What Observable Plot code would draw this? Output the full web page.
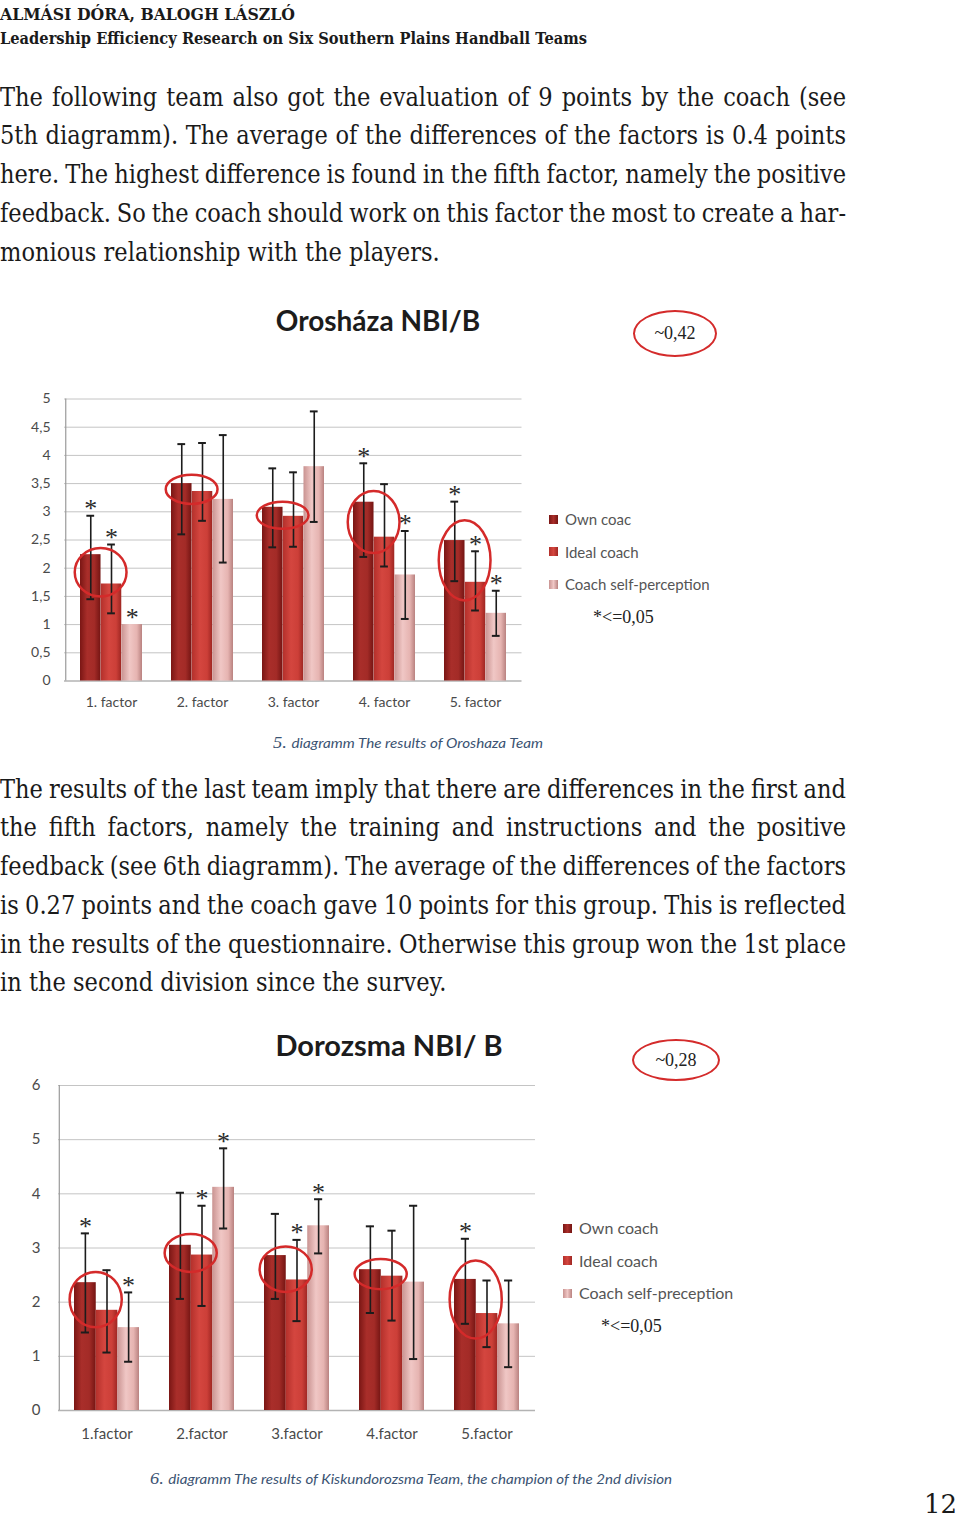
<!DOCTYPE html>
<html><head><meta charset="utf-8">
<script src="https://cdn.jsdelivr.net/npm/d3@7"></script>
<script src="https://cdn.jsdelivr.net/npm/@observablehq/plot@0.6"></script>
<style>
body{margin:0;background:#fff;}
#page{position:relative;width:960px;height:1522px;overflow:hidden;background:#fff;}
.ln{position:absolute;white-space:nowrap;transform-origin:0 50%;color:#1a1a1a;}
.chart{position:absolute;}
.title{position:absolute;font-family:Lato,sans-serif;font-weight:700;color:#1c1c1c;text-align:center;white-space:nowrap;}
.oval{position:absolute;box-sizing:border-box;border:2.5px solid #d42b2b;border-radius:50%;display:flex;align-items:center;justify-content:center;font-family:"Liberation Serif",serif;font-size:18px;color:#222;}
.leg{position:absolute;font-family:Lato,sans-serif;color:#555;white-space:nowrap;}
.sw{position:absolute;width:9px;height:9px;}
.sig{position:absolute;font-family:"Liberation Serif",serif;color:#222;white-space:nowrap;}
.cap{position:absolute;white-space:nowrap;transform-origin:0 50%;color:#3b5372;font-family:Lato,sans-serif;font-style:italic;}
</style></head>
<body>
<svg width="0" height="0" style="position:absolute">
<defs>
<linearGradient id="gOwn" x1="0" x2="1" y1="0" y2="0">
<stop offset="0" stop-color="#7a1614"/><stop offset="0.35" stop-color="#a92e2a"/><stop offset="0.7" stop-color="#a32b27"/><stop offset="1" stop-color="#741513"/>
</linearGradient>
<linearGradient id="gIdeal" x1="0" x2="1" y1="0" y2="0">
<stop offset="0" stop-color="#b3302b"/><stop offset="0.4" stop-color="#d4463f"/><stop offset="0.75" stop-color="#cc3f38"/><stop offset="1" stop-color="#9e2622"/>
</linearGradient>
<linearGradient id="gSelf" x1="0" x2="1" y1="0" y2="0">
<stop offset="0" stop-color="#c99391"/><stop offset="0.4" stop-color="#f0c7c5"/><stop offset="0.75" stop-color="#e6b4b1"/><stop offset="1" stop-color="#b98280"/>
</linearGradient>
</defs>
</svg>
<div id="page"></div>
<script>
// ---------- DATA ----------
const seriesNames1 = ["Own coac", "Ideal coach", "Coach self-perception"];
const seriesNames2 = ["Own coach", "Ideal coach", "Coach self-preception"];

// Chart 1: Orosháza NBI/B
const factors1 = ["1. factor", "2. factor", "3. factor", "4. factor", "5. factor"];
const yTicks1 = [0, 0.5, 1, 1.5, 2, 2.5, 3, 3.5, 4, 4.5, 5];
const own1 = [2.24, 3.50, 3.08, 3.17, 2.49];
const ideal1 = [1.72, 3.36, 2.92, 2.55, 1.75];
const self1 = [1.00, 3.22, 3.80, 1.88, 1.20];
const ownLo1 = [1.45, 2.60, 2.37, 2.20, 1.77];
const ownHi1 = [2.93, 4.20, 3.77, 3.86, 3.18];
const idealLo1 = [1.20, 2.84, 2.38, 2.03, 1.25];
const idealHi1 = [2.42, 4.22, 3.70, 3.49, 2.30];
const selfLo1 = [null, 2.10, 2.82, 1.10, 0.80];
const selfHi1 = [null, 4.36, 4.78, 2.66, 1.60];
const ownSig1 = [1, 0, 0, 1, 1];
const idealSig1 = [1, 0, 0, 0, 1];
const selfSig1 = [1, 0, 0, 1, 1];
const ovalLo1 = [1.49, 3.13, 2.69, 2.26, 1.42];
const ovalHi1 = [2.35, 3.65, 3.17, 3.36, 2.84];

// Chart 2: Dorozsma NBI/ B
const factors2 = ["1.factor", "2.factor", "3.factor", "4.factor", "5.factor"];
const yTicks2 = [0, 1, 2, 3, 4, 5, 6];
const own2 = [2.36, 3.05, 2.86, 2.60, 2.42];
const ideal2 = [1.85, 2.87, 2.41, 2.48, 1.79];
const self2 = [1.53, 4.12, 3.41, 2.37, 1.60];
const ownLo2 = [1.44, 2.06, 2.06, 1.80, 1.60];
const ownHi2 = [3.27, 4.02, 3.63, 3.40, 3.17];
const idealLo2 = [1.07, 1.93, 1.65, 1.66, 1.17];
const idealHi2 = [2.59, 3.78, 3.15, 3.32, 2.40];
const selfLo2 = [0.90, 3.36, 2.90, 0.95, 0.80];
const selfHi2 = [2.18, 4.84, 3.90, 3.78, 2.40];
const ownSig2 = [1, 0, 0, 0, 1];
const idealSig2 = [0, 1, 1, 0, 0];
const selfSig2 = [1, 1, 1, 0, 0];
const ovalLo2 = [1.53, 2.55, 2.18, 2.23, 1.32];
const ovalHi2 = [2.55, 3.25, 3.02, 2.79, 2.76];

// Text
const header = ["ALMÁSI DÓRA, BALOGH LÁSZLÓ", "Leadership Efficiency Research on Six Southern Plains Handball Teams"];
const para1 = [
  "The following team also got the evaluation of 9 points by the coach (see",
  "5th diagramm). The average of the differences of the factors is 0.4 points",
  "here. The highest difference is found in the fifth factor, namely the positive",
  "feedback. So the coach should work on this factor the most to create a har-",
  "monious relationship with the players."
];
const para2 = [
  "The results of the last team imply that there are differences in the first and",
  "the fifth factors, namely the training and instructions and the positive",
  "feedback (see 6th diagramm). The average of the differences of the factors",
  "is 0.27 points and the coach gave 10 points for this group. This is reflected",
  "in the results of the questionnaire. Otherwise this group won the 1st place",
  "in the second division since the survey."
];

// ---------- PAGE TEXT ----------
const page = document.getElementById("page");
const SERIF = '"DejaVu Serif", serif';

function makeLine(text, o) {
  const d = document.createElement("div");
  d.className = "ln";
  d.textContent = text;
  Object.assign(d.style, {
    top: o.top + "px", left: (o.left || 0) + "px", fontSize: o.size + "px",
    fontFamily: o.family, fontWeight: o.weight || 400, lineHeight: o.lh + "px",
    color: o.color || "#1a1a1a"
  });
  page.appendChild(d);
  return d;
}
function fitLine(el, target) {
  const w = el.getBoundingClientRect().width;
  el.style.transform = `scaleX(${target / w})`;
}
function paragraph(lines, o) {
  const els = lines.map((t, i) => makeLine(t, {...o, top: o.top + i * o.lh}));
  const widths = els.map(e => e.getBoundingClientRect().width);
  const s = d3.mean(els.slice(0, -1).map((e, i) => o.target / widths[i]));
  els.forEach((e, i) => {
    if (i < els.length - 1) {
      const spaces = (lines[i].match(/ /g) || []).length;
      e.style.wordSpacing = ((o.target / s - widths[i]) / spaces) + "px";
    }
    e.style.transform = `scaleX(${s})`;
  });
}

fitLine(makeLine(header[0], {top: 4, size: 17, family: SERIF, weight: 700, lh: 20}), 295);
fitLine(makeLine(header[1], {top: 28, size: 17, family: SERIF, weight: 700, lh: 20}), 587);
paragraph(para1, {top: 77.5, lh: 38.75, size: 26, family: SERIF, target: 846});
paragraph(para2, {top: 769.5, lh: 38.75, size: 26, family: SERIF, target: 846});
makeLine("12", {top: 1490, left: 924, size: 26, family: SERIF, lh: 28});

function addDiv(cls, text, style) {
  const d = document.createElement("div");
  d.className = cls;
  if (text != null) d.textContent = text;
  Object.assign(d.style, style);
  page.appendChild(d);
  return d;
}

// Titles & annotation ovals
addDiv("title", "Orosháza NBI/B", {left: "228px", width: "300px", top: "304px", fontSize: "28px", lineHeight: "32px"});
addDiv("oval", "~0,42", {left: "633px", top: "310px", width: "84px", height: "47px"});
addDiv("title", "Dorozsma NBI/ B", {left: "239px", width: "300px", top: "1029px", fontSize: "29px", lineHeight: "32px"});
addDiv("oval", "~0,28", {left: "632px", top: "1039px", width: "88px", height: "42px"});

// Legends
const swFill = ["linear-gradient(90deg,#7a1614,#a92e2a,#741513)", "linear-gradient(90deg,#b3302b,#d4463f,#9e2622)", "linear-gradient(90deg,#c99391,#f0c7c5,#b98280)"];
function legend(names, o) {
  names.forEach((n, i) => {
    const cy = o.y0 + i * o.dy;
    addDiv("sw", null, {left: o.sx + "px", top: (cy - 4.5) + "px", background: swFill[i]});
    addDiv("leg", n, {left: o.tx + "px", top: (cy - 11) + "px", fontSize: o.fs + "px", lineHeight: "22px"});
  });
  addDiv("sig", "*<=0,05", {left: o.px + "px", top: (o.py - 11) + "px", fontSize: "18px", lineHeight: "22px"});
}
legend(seriesNames1, {sx: 549, tx: 565, y0: 519, dy: 32.5, fs: 15, px: 593, py: 617});
legend(seriesNames2, {sx: 563, tx: 579, y0: 1228, dy: 32.5, fs: 16, px: 601, py: 1326});

// Captions
function caption(num, text, left, cy, target) {
  const d = addDiv("cap", null, {left: left + "px", top: (cy - 11) + "px", fontSize: "14px", lineHeight: "22px"});
  const a = document.createElement("span");
  a.textContent = num + " ";
  a.style.fontFamily = '"Liberation Serif", serif';
  a.style.fontSize = "17px";
  d.appendChild(a);
  d.appendChild(document.createTextNode(text));
  fitLine(d, target);
}
caption("5.", "diagramm The results of Oroshaza Team", 273, 743, 270);
caption("6.", "diagramm The results of Kiskundorozsma Team, the champion of the 2nd division", 150, 1479, 522);

// ---------- CHARTS ----------
const grads = ["url(#gOwn)", "url(#gIdeal)", "url(#gSelf)"];

function buildRows(factors, vals, lows, highs, sigs) {
  const rows = [];
  factors.forEach((f, i) => {
    for (let s = 0; s < 3; s++) rows.push({factor: f, s, value: vals[s][i], lo: lows[s][i], hi: highs[s][i], sig: sigs[s][i]});
  });
  return rows;
}

function drawChart(c) {
  const n = c.factors.length;
  const step = (c.width - c.mL - c.mR) / n;
  const bw = step * (1 - 0.32);
  const marks = [
    Plot.ruleY(c.yTicks.filter(t => t > 0), {stroke: "#c4c4c4", strokeWidth: 1}),
    Plot.ruleY([0], {stroke: "#b3b3b3", strokeWidth: 1.5}),
    Plot.ruleX([c.factors[0]], {x: d => d, dx: -(bw / 2 + step * 0.16), stroke: "#9a9a9a", strokeWidth: 1.2})
  ];
  for (let s = 0; s < 3; s++) {
    const rs = c.rows.filter(r => r.s === s);
    marks.push(Plot.barY(rs, {x: "factor", y: "value", fill: grads[s], insetLeft: s * bw / 3, insetRight: (2 - s) * bw / 3}));
  }
  for (let s = 0; s < 3; s++) {
    const rs = c.rows.filter(r => r.s === s);
    const dx = (s - 1) * bw / 3;
    const er = rs.filter(r => r.lo != null);
    const capInset = (bw - 8) / 2;
    marks.push(Plot.ruleX(er, {x: "factor", y1: "lo", y2: "hi", dx, stroke: "#1c1c1c", strokeWidth: 1.6}));
    marks.push(Plot.tickY(er, {x: "factor", y: "lo", dx, insetLeft: capInset, insetRight: capInset, stroke: "#1c1c1c", strokeWidth: 2}));
    marks.push(Plot.tickY(er, {x: "factor", y: "hi", dx, insetLeft: capInset, insetRight: capInset, stroke: "#1c1c1c", strokeWidth: 2}));
    marks.push(Plot.text(rs.filter(r => r.sig), {x: "factor", y: r => (r.hi ?? r.value), text: () => "*", dx, dy: -7, fontSize: 26, fontFamily: "Liberation Serif", fill: "#2a2a2a"}));
  }
  const ovalInset = (bw - 52) / 2;
  marks.push(Plot.barY(c.ovals, {x: "factor", y1: "lo", y2: "hi", dx: -bw / 6, insetLeft: ovalInset, insetRight: ovalInset, rx: 300, ry: 300, fill: "none", stroke: "#d42a2a", strokeWidth: 2.5}));

  const svg = Plot.plot({
    width: c.width, height: c.height,
    marginLeft: c.mL, marginRight: c.mR, marginTop: c.mT, marginBottom: c.mB,
    x: {type: "band", domain: c.factors, paddingInner: 0.32, paddingOuter: 0.16, tickSize: 0, tickPadding: c.xPad, label: null},
    y: {domain: c.yDomain, ticks: c.yTicks, tickFormat: d => String(d).replace(".", ","), tickSize: 0, tickPadding: c.yPad, label: null},
    style: {fontFamily: "Lato, sans-serif", fontSize: c.fs + "px", color: "#4a4a4a", background: "none", overflow: "visible"},
    marks
  });
  svg.classList.add("chart");
  svg.style.left = c.left + "px";
  svg.style.top = c.top + "px";
  page.appendChild(svg);
}

drawChart({
  factors: factors1,
  rows: buildRows(factors1, [own1, ideal1, self1], [ownLo1, idealLo1, selfLo1], [ownHi1, idealHi1, selfHi1], [ownSig1, idealSig1, selfSig1]),
  ovals: factors1.map((f, i) => ({factor: f, lo: ovalLo1[i], hi: ovalHi1[i]})),
  yDomain: [0, 5], yTicks: yTicks1,
  left: 0, top: 380, width: 540, height: 340, mL: 64, mR: 18.5, mT: 18.5, mB: 39.5,
  xPad: 16, yPad: 14, fs: 14
});
drawChart({
  factors: factors2,
  rows: buildRows(factors2, [own2, ideal2, self2], [ownLo2, idealLo2, selfLo2], [ownHi2, idealHi2, selfHi2], [ownSig2, idealSig2, selfSig2]),
  ovals: factors2.map((f, i) => ({factor: f, lo: ovalLo2[i], hi: ovalHi2[i]})),
  yDomain: [0, 6], yTicks: yTicks2,
  left: 0, top: 1060, width: 550, height: 390, mL: 58, mR: 15, mT: 25, mB: 40,
  xPad: 18, yPad: 18, fs: 15
});
</script>
</body></html>
